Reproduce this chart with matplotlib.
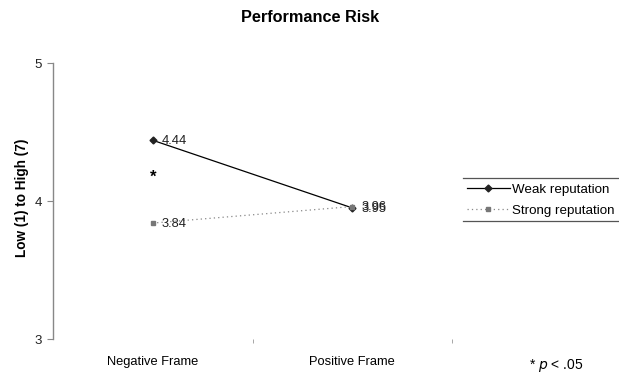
import matplotlib.pyplot as plt
from matplotlib.lines import Line2D

plt.rcParams['font.family'] = ['Liberation Sans', 'DejaVu Sans']

frames = ["Negative Frame", "Positive Frame"]
weak = [4.44, 3.95]
strong = [3.84, 3.96]
weak_labels = ["4.44", "3.95"]
strong_labels = ["3.84", "3.96"]
star_y = 4.17

W, H = 619, 376
fig = plt.figure(figsize=(W / 100, H / 100), dpi=100)
ax = fig.add_axes([53 / W, 1 - 339 / H, (452 - 53) / W, (339 - 63) / H])

x = range(len(frames))
ax.plot(x, weak, color="black", lw=0.9, marker="D", ms=3.5, mfc="#222222", mec="#222222",
        label="Weak reputation")
ax.plot(x, strong, color="#888888", lw=0.9, ls=(0, (1, 2.5)), marker="s", ms=3.5,
        mfc="#777777", mec="#777777", label="Strong reputation")

# value labels (the two at Positive Frame overlap, as in the original)
for i in x:
    ax.annotate(weak_labels[i], (i, weak[i]), xytext=(6.5, -0.5), textcoords="offset points",
                va="center", ha="left", fontsize=9.3, color="#222222")
    ax.annotate(strong_labels[i], (i, strong[i]), xytext=(6.5, -0.5), textcoords="offset points",
                va="center", ha="left", fontsize=9.3, color="#222222")

ax.text(0, star_y, "*", ha="center", va="center", fontsize=12, fontweight="bold")

ax.set_xlim(-0.5, 1.5)
ax.set_ylim(3, 5)
ax.set_yticks([3, 4, 5])
ax.set_xticks([0, 1])
ax.set_xticklabels(frames, fontsize=9.3)
ax.set_xticks([0.5, 1.5], minor=True)
ax.tick_params(axis="x", which="major", length=0, pad=12)
ax.tick_params(axis="x", which="minor", length=3, color="#999999", direction="out", pad=4)
ax.tick_params(axis="y", length=4, color="#888888", labelsize=9.5, pad=4,
               labelcolor="#222222")

for s in ["top", "right", "bottom"]:
    ax.spines[s].set_visible(False)
ax.spines["left"].set_color("#888888")
ax.spines["left"].set_linewidth(1)

ax.set_ylabel("Low (1) to High (7)", fontsize=9.8, fontweight="bold")
ax.yaxis.set_label_coords((29 - 53) / (452 - 53), (339 - 198) / (339 - 63))

fig.text(310 / W, 1 - 17 / H, "Performance Risk", ha="center", va="center",
         fontsize=11.7, fontweight="bold")

fig.legend(loc="center left", bbox_to_anchor=(467 / W, 1 - 200 / H),
           frameon=False, fontsize=9.6, handlelength=3.2, handletextpad=0.2,
           labelspacing=0.65, borderaxespad=0, borderpad=0)
fig.add_artist(Line2D([463 / W, 1.0], [1 - 178 / H] * 2, color="#555555", lw=0.9))
fig.add_artist(Line2D([463 / W, 1.0], [1 - 221 / H] * 2, color="#555555", lw=0.9))

fig.text(556 / W, 1 - 365 / H, "* $p$ < .05", ha="center", va="center", fontsize=10)

fig.savefig("out.png", dpi=100)
